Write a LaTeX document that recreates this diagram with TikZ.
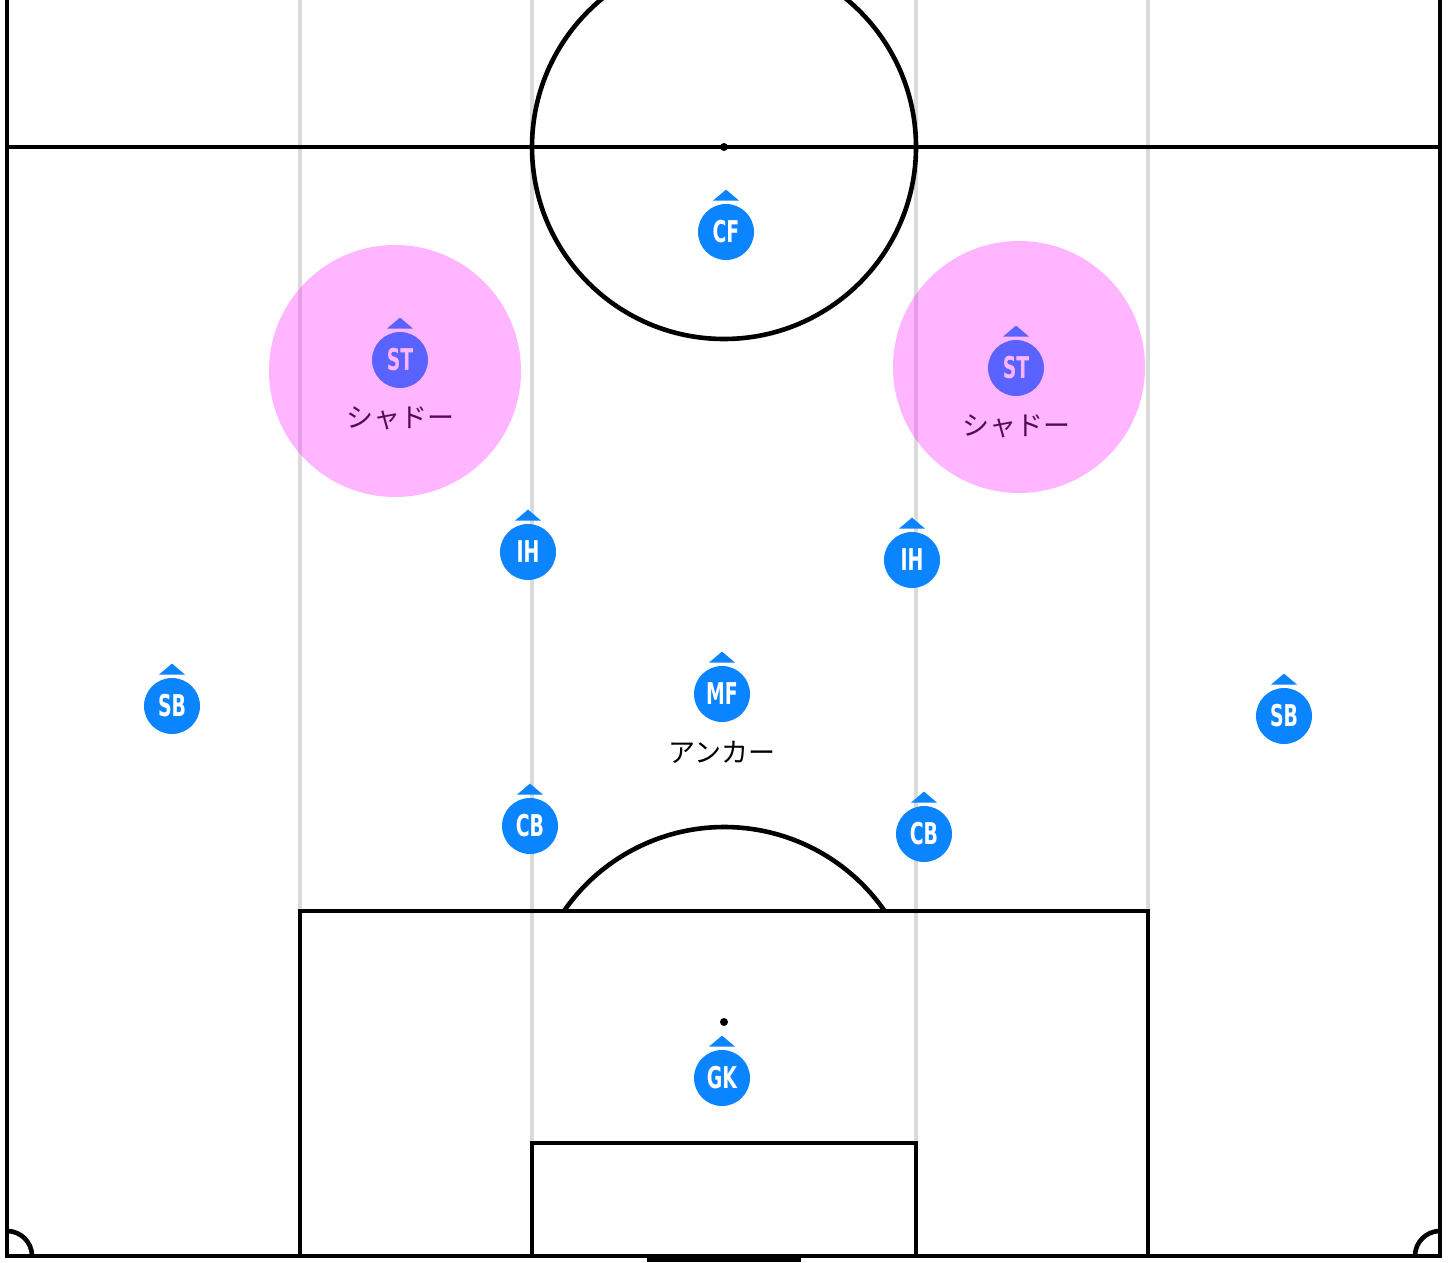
\documentclass[tikz,border=0pt]{standalone}
\usepackage{fontspec}
\newfontfamily\jpfont{Noto Sans CJK JP}
\newfontfamily\posfont{DejaVu Sans Condensed Bold}[FakeStretch=0.7]
\usepackage{tikz}
\usetikzlibrary{positioning}
\definecolor{tokenblue}{RGB}{10,132,255}
\definecolor{lanegray}{RGB}{218,218,218}
\definecolor{zonepink}{RGB}{255,30,255}

\begin{document}
\begin{tikzpicture}[x=0.5pt,y=-0.5pt,
    pitch/.style={draw=black,line width=2.3pt},
    lane/.style={draw=lanegray,line width=2pt},
    player/.style={circle,fill=tokenblue,minimum size=28pt,inner sep=0pt,
      text=white,font=\posfont\fontsize{15}{15}\selectfont},
    role/.style={inner sep=0pt,font=\jpfont\fontsize{13.5}{14}\selectfont},
    zone/.style={fill=zonepink,fill opacity=0.33}]
  \useasboundingbox (0,0) rectangle (1454,1262);

  % lanes
  \foreach \x in {300,532,916,1148}
    \draw[lane] (\x,0) -- (\x,1256);

  % pitch
  \draw[pitch] (7,0) -- (7,1256) -- (1440,1256) -- (1440,0);
  \draw[pitch] (7,147) -- (1440,147);
  \draw[pitch] (724,147) circle[radius=192];
  \fill (724,147) circle[radius=4];
  \draw[pitch] (300,1256) -- (300,911) -- (1148,911) -- (1148,1256);
  \draw[pitch] (532,1256) -- (532,1143) -- (916,1143) -- (916,1256);
  \fill (724,1022) circle[radius=4];
  \draw[pitch] (564,911) arc[start angle=-145.3,end angle=-34.7,radius=195];
  \draw[pitch] (7,1231) arc[start angle=-90,end angle=0,radius=25];
  \draw[pitch] (1415,1256) arc[start angle=180,end angle=270,radius=25];
  \fill (647,1256) rectangle (801,1262);

  % players
  \node[player] (cf) at (726,232) {CF};
  \node[player] (stl) at (400,360) {ST};
  \node[player] (str) at (1016,368) {ST};
  \node[player] (ihl) at (528,552) {IH};
  \node[player] (ihr) at (912,560) {IH};
  \node[player] (sbl) at (172,706) {SB};
  \node[player] (mf) at (722,694) {MF};
  \node[player] (sbr) at (1284,716) {SB};
  \node[player] (cbl) at (530,826) {CB};
  \node[player] (cbr) at (924,834) {CB};
  \node[player] (gk) at (722,1078) {GK};

  \foreach \p in {cf,stl,str,ihl,ihr,sbl,mf,sbr,cbl,cbr,gk}
    \fill[tokenblue] ([shift={(-13,-3)}]\p.north) -- ([shift={(13,-3)}]\p.north)
      -- ([shift={(0,-14)}]\p.north) -- cycle;

  \node[role,below=9pt of stl] (stl-role) {シャドー};
  \node[role,below=9pt of str] (str-role) {シャドー};
  \node[role,below=9pt of mf] (mf-role) {アンカー};

  % shadow zones
  \fill[zone] (395,371) circle[radius=126];
  \fill[zone] (1019,367) circle[radius=126];
\end{tikzpicture}
\end{document}
